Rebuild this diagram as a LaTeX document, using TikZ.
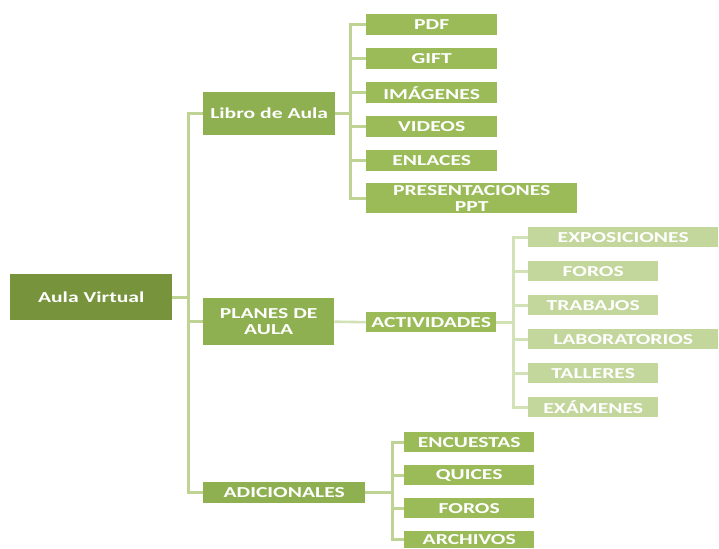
\documentclass[tikz,border=0pt]{standalone}
\usepackage{fontspec}
\newfontfamily\boxfont[FakeStretch=1.42]{Carlito}
\definecolor{rootgreen}{RGB}{119,147,60}
\definecolor{midgreen}{RGB}{142,176,80}
\definecolor{leafgreen}{RGB}{155,187,89}
\definecolor{palegreen}{RGB}{195,214,155}
\definecolor{linegreen}{RGB}{190,211,148}
\definecolor{linepale}{RGB}{210,225,182}
\tikzset{
  x=1pt, y=-1pt,
  box/.style={rectangle, inner sep=0pt, anchor=north west, text=white,
    font=\boxfont\bfseries\fontsize{15.2}{16}\selectfont, align=center},
  conn/.style={draw=linegreen, line width=2.6pt},
  connpale/.style={draw=linepale, line width=2.6pt},
}
\begin{document}
\begin{tikzpicture}
\useasboundingbox (0,0) rectangle (719,548);
% root
\node[box, fill=rootgreen, minimum width=162pt, minimum height=46pt] (root) at (10,274) {Aula Virtual};
% level 1
\node[box, fill=midgreen, minimum width=132pt, minimum height=43pt] (libro) at (203,92) {Libro de Aula};
\node[box, fill=midgreen, minimum width=131pt, minimum height=47pt] (planes) at (203,298) {PLANES DE\\AULA};
\node[box, fill=midgreen, minimum width=162pt, minimum height=21pt] (adic) at (203,482) {ADICIONALES};
% libro children
\node[box, fill=leafgreen, minimum width=131pt, minimum height=21pt] (pdf) at (366,14) {PDF};
\node[box, fill=leafgreen, minimum width=131pt, minimum height=21pt] (gift) at (366,48) {GIFT};
\node[box, fill=leafgreen, minimum width=131pt, minimum height=21pt] (img) at (366,82) {IMÁGENES};
\node[box, fill=leafgreen, minimum width=131pt, minimum height=21pt] (vid) at (366,116) {VIDEOS};
\node[box, fill=leafgreen, minimum width=131pt, minimum height=21pt] (enl) at (366,150) {ENLACES};
\node[box, fill=leafgreen, minimum width=211pt, minimum height=30pt] (ppt) at (366,183) {PRESENTACIONES\\PPT};
% planes child
\node[box, fill=leafgreen, minimum width=130pt, minimum height=20pt] (act) at (366,312) {ACTIVIDADES};
% actividades children
\node[box, fill=palegreen, minimum width=190pt, minimum height=20pt] (expo) at (528,227) {EXPOSICIONES};
\node[box, fill=palegreen, minimum width=130pt, minimum height=20pt] (foros) at (528,261) {FOROS};
\node[box, fill=palegreen, minimum width=130pt, minimum height=20pt] (trab) at (528,295) {TRABAJOS};
\node[box, fill=palegreen, minimum width=190pt, minimum height=20pt] (lab) at (528,329) {LABORATORIOS};
\node[box, fill=palegreen, minimum width=130pt, minimum height=20pt] (tall) at (528,363) {TALLERES};
\node[box, fill=palegreen, minimum width=130pt, minimum height=20pt] (exam) at (528,397) {EXÁMENES};
% adicionales children
\node[box, fill=leafgreen, minimum width=130pt, minimum height=20pt] (enc) at (404,432) {ENCUESTAS};
\node[box, fill=leafgreen, minimum width=130pt, minimum height=20pt] (quic) at (404,465) {QUICES};
\node[box, fill=leafgreen, minimum width=130pt, minimum height=20pt] (foros2) at (404,498) {FOROS};
\node[box, fill=leafgreen, minimum width=130pt, minimum height=17pt] (arch) at (404,531) {ARCHIVOS};
% connectors
\foreach \c in {libro,planes,adic} \draw[conn] (root.east) -- ++(16,0) |- (\c.west);
\foreach \c in {pdf,gift,img,vid,enl,ppt} \draw[conn] (libro.east) -- ++(15,0) |- (\c.west);
\draw[connpale] (planes.east) -- (act.west);
\foreach \c in {expo,foros,trab,lab,tall,exam} \draw[connpale] (act.east) -- ++(17,0) |- (\c.west);
\foreach \c in {enc,quic,foros2,arch} \draw[conn] (adic.east) -- ++(27,0) |- (\c.west);
\end{tikzpicture}
\end{document}
